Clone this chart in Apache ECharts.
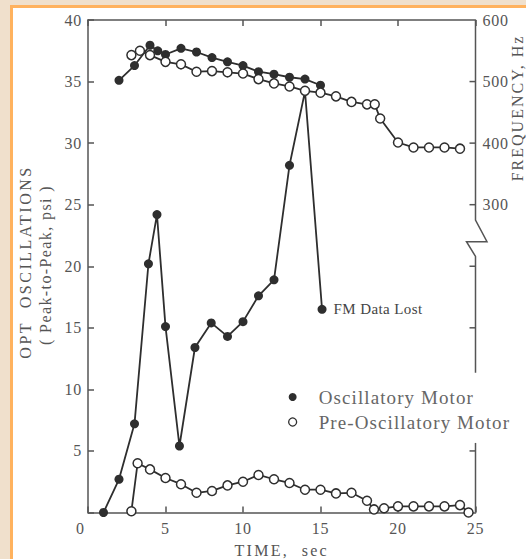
<!DOCTYPE html>
<html>
<head>
<meta charset="utf-8">
<script src="https://cdn.jsdelivr.net/npm/echarts@6/dist/echarts.min.js"></script>
<style>
  html, body { margin: 0; padding: 0; background: #f0e0cc; }
  #chart { width: 526px; height: 559px; }
  #chart text { letter-spacing: 0.8px; }
</style>
</head>
<body>
<div id="chart"></div>
<script>
// Oscillation amplitude (psi, peak-to-peak) against time (s)
const oscAmpTime = [1, 2, 3, 3.9, 4.45, 5, 5.9, 6.9, 7.95, 9, 10, 11, 12, 13, 14, 15.1];
const oscAmpPsi  = [0, 2.7, 7.2, 20.2, 24.2, 15.1, 5.4, 13.4, 15.4, 14.3, 15.5, 17.6, 18.9, 28.2, 34.2, 16.5];

const preAmpTime = [2.8, 3.2, 4, 5, 6, 7, 8, 9, 10, 11, 12, 13, 14, 15, 16, 17, 18, 18.45, 19.1, 20, 21, 22, 23, 24, 24.55];
const preAmpPsi  = [0.1, 4.0, 3.5, 2.8, 2.3, 1.6, 1.75, 2.2, 2.5, 3.05, 2.7, 2.4, 1.85, 1.85, 1.55, 1.6, 0.95, 0.25, 0.35, 0.5, 0.5, 0.5, 0.5, 0.6, 0];

// Oscillation frequency (Hz) against time (s)
const oscFreqTime = [2, 3, 4, 4.5, 5, 6, 7, 8, 9, 10, 11, 12, 13, 14, 15];
const oscFreqHz   = [502, 526, 559, 550, 544, 554, 548, 539, 532, 526, 516, 512, 507, 504, 494];

const preFreqTime = [2.8, 3.35, 4, 5, 6, 7, 8, 9, 10, 11, 12, 13, 14, 15, 16, 17, 18, 18.5, 18.85, 20, 21, 22, 23, 24];
const preFreqHz   = [543, 550, 543, 532, 528, 516, 517, 515, 513, 504, 497, 492, 485, 482, 476, 467, 463, 463, 440, 401, 393, 393, 393, 391];

const seriesNames = ['Oscillatory Motor', 'Pre-Oscillatory Motor'];
const lostLabel = 'FM Data Lost';

// Axis ticks
const timeTicks = { min: 0, max: 25, step: 5 };
const psiTicks  = { min: 0, max: 40, step: 5 };
const hzTicks   = { min: -200, max: 600, step: 100, firstLabel: 300 };
// Right-axis tick positions that are drawn by hand (the axis line is broken)
const hzTickMarks = [500, 400, 300, 200, 100, -100];

// Axis titles
const titleTime = 'TIME,  sec';
const titlePsi1 = 'OPT  OSCILLATIONS';
const titlePsi2 = '( Peak-to-Peak, psi )';
const titleHz   = 'FREQUENCY, Hz';

// Letter spacing per text (everything else uses the stylesheet default)
const tracking = {
  [titleTime]: '2.3px', [titlePsi1]: '2.5px', [titlePsi2]: '1.4px', [titleHz]: '2px',
  [seriesNames[0]]: '1.1px', [seriesNames[1]]: '1.1px', [lostLabel]: '0.4px'
};

const SERIF = '"Liberation Serif", "Times New Roman", serif';
const INK = '#2e2e2e';
const AXIS = '#555';
const TEXT = '#555';

const pairs = (xs, ys) => xs.map((x, i) => [x, ys[i]]);

const filledStyle = {
  type: 'line', symbol: 'circle', symbolSize: 9, silent: true,
  itemStyle: { color: INK },
  lineStyle: { color: INK, width: 1.8 },
  emphasis: { disabled: true }
};
const openStyle = {
  type: 'line', symbol: 'circle', symbolSize: 9, silent: true,
  itemStyle: { color: '#ffffff', borderColor: INK, borderWidth: 1.5 },
  lineStyle: { color: INK, width: 1.8 },
  emphasis: { disabled: true }
};

const oscAmpData = pairs(oscAmpTime, oscAmpPsi);
const last = oscAmpData.length - 1;
oscAmpData[last] = {
  value: oscAmpData[last],
  label: {
    show: true, position: 'right', distance: 7, formatter: lostLabel,
    fontFamily: SERIF, fontSize: 15, color: '#444'
  }
};

const axisLineStyle = { color: AXIS, width: 1.5 };

const chart = echarts.init(document.getElementById('chart'), null, { renderer: 'svg' });

const option = {
  backgroundColor: '#f0e0cc',
  animation: false,
  grid: { left: 88, right: 50.5, top: 20, bottom: 46.5, outerBoundsMode: 'none', containLabel: false },
  xAxis: [
    {
      type: 'value', position: 'bottom',
      min: timeTicks.min, max: timeTicks.max, interval: timeTicks.step,
      axisLine: { show: true, onZero: false, lineStyle: axisLineStyle },
      axisTick: { show: true, inside: true, length: 6, lineStyle: axisLineStyle },
      axisLabel: {
        color: TEXT, fontFamily: SERIF, fontSize: 16, margin: 8,
        formatter: v => (v === 0 ? '{z|0}' : String(v)),
        rich: { z: { color: TEXT, fontFamily: SERIF, fontSize: 16, padding: [0, 15, 0, 0] } }
      },
      splitLine: { show: false },
      name: titleTime, nameLocation: 'middle', nameGap: 30,
      nameTextStyle: { color: TEXT, fontFamily: SERIF, fontSize: 16 }
    },
    {
      type: 'value', position: 'top',
      min: timeTicks.min, max: timeTicks.max, interval: timeTicks.step,
      axisLine: { show: true, onZero: false, lineStyle: axisLineStyle },
      axisTick: { show: true, inside: true, length: 6, lineStyle: axisLineStyle },
      axisLabel: { show: false },
      splitLine: { show: false }
    }
  ],
  yAxis: [
    {
      type: 'value', position: 'left',
      min: psiTicks.min, max: psiTicks.max, interval: psiTicks.step,
      axisLine: { show: true, onZero: false, lineStyle: axisLineStyle },
      axisTick: { show: true, inside: true, length: 6, lineStyle: axisLineStyle },
      axisLabel: {
        color: TEXT, fontFamily: SERIF, fontSize: 16, margin: 6,
        formatter: v => (v === 0 ? '' : String(v))
      },
      splitLine: { show: false }
    },
    {
      type: 'value', position: 'right',
      min: hzTicks.min, max: hzTicks.max, interval: hzTicks.step,
      axisLine: { show: false, onZero: false },
      axisTick: { show: false },
      axisLabel: {
        color: TEXT, fontFamily: SERIF, fontSize: 16, margin: 7,
        formatter: v => (v >= hzTicks.firstLabel ? String(v) : '')
      },
      splitLine: { show: false }
    }
  ],
  legend: {
    orient: 'vertical', left: 288, top: 387, padding: 0,
    itemWidth: 8, itemHeight: 8, itemGap: 5,
    selectedMode: false,
    textStyle: { fontFamily: SERIF, fontSize: 19, color: '#666', lineHeight: 20, padding: [0, 0, 0, 17] },
    data: [
      { name: seriesNames[0], icon: 'circle', itemStyle: { color: INK, borderWidth: 0 } },
      { name: seriesNames[1], icon: 'circle', itemStyle: { color: '#ffffff', borderColor: INK, borderWidth: 1.3 } }
    ]
  },
  series: [
    Object.assign({}, filledStyle, { name: seriesNames[0], xAxisIndex: 0, yAxisIndex: 0, data: oscAmpData }),
    Object.assign({}, filledStyle, { name: seriesNames[0], xAxisIndex: 0, yAxisIndex: 1, data: pairs(oscFreqTime, oscFreqHz) }),
    Object.assign({}, openStyle,   { name: seriesNames[1], xAxisIndex: 0, yAxisIndex: 0, data: pairs(preAmpTime, preAmpPsi) }),
    Object.assign({}, openStyle,   { name: seriesNames[1], xAxisIndex: 0, yAxisIndex: 1, data: pairs(preFreqTime, preFreqHz) })
  ]
};

chart.setOption(option);

// Broken right-hand frequency axis, panel frame and rotated axis titles
const xR = chart.convertToPixel({ xAxisIndex: 0 }, timeTicks.max);
const yHz = hz => chart.convertToPixel({ yAxisIndex: 1 }, hz);
const line = pts => ({
  type: 'polyline', silent: true, z: 5,
  shape: { points: pts },
  style: { stroke: AXIS, lineWidth: 1.5, fill: null }
});

const axisParts = [
  line([[xR, yHz(hzTicks.max)], [xR, yHz(275)], [xR + 11.5, yHz(240)], [xR - 9, yHz(240)], [xR, yHz(216)], [xR, yHz(27)]]),
  line([[xR, yHz(-87)], [xR, yHz(hzTicks.min)]])
].concat(hzTickMarks.map(hz => line([[xR - 6, yHz(hz)], [xR, yHz(hz)]])));

const rotatedText = (text, x, y, size) => ({
  type: 'text', silent: true, x: x, y: y, rotation: Math.PI / 2, z: 5,
  style: {
    text: text, fill: TEXT, font: size + 'px ' + SERIF,
    textAlign: 'center', textVerticalAlign: 'middle', align: 'center', verticalAlign: 'middle'
  }
});

chart.setOption({
  graphic: [
    {
      type: 'rect', silent: true, z: -10,
      shape: { x: 11.5, y: 6.5, width: 700, height: 700 },
      style: { fill: '#ffffff', stroke: '#ffb25e', lineWidth: 3 }
    },
    rotatedText(titlePsi1, 25, 262, 16),
    rotatedText(titlePsi2, 45, 265, 16),
    rotatedText(titleHz, 517, 108, 16)
  ].concat(axisParts)
});

// Per-text tracking
function applyTracking() {
  document.querySelectorAll('#chart text').forEach(el => {
    const s = tracking[el.textContent];
    if (s) el.style.letterSpacing = s;
  });
}
applyTracking();
chart.on('rendered', applyTracking);
</script>
</body>
</html>
